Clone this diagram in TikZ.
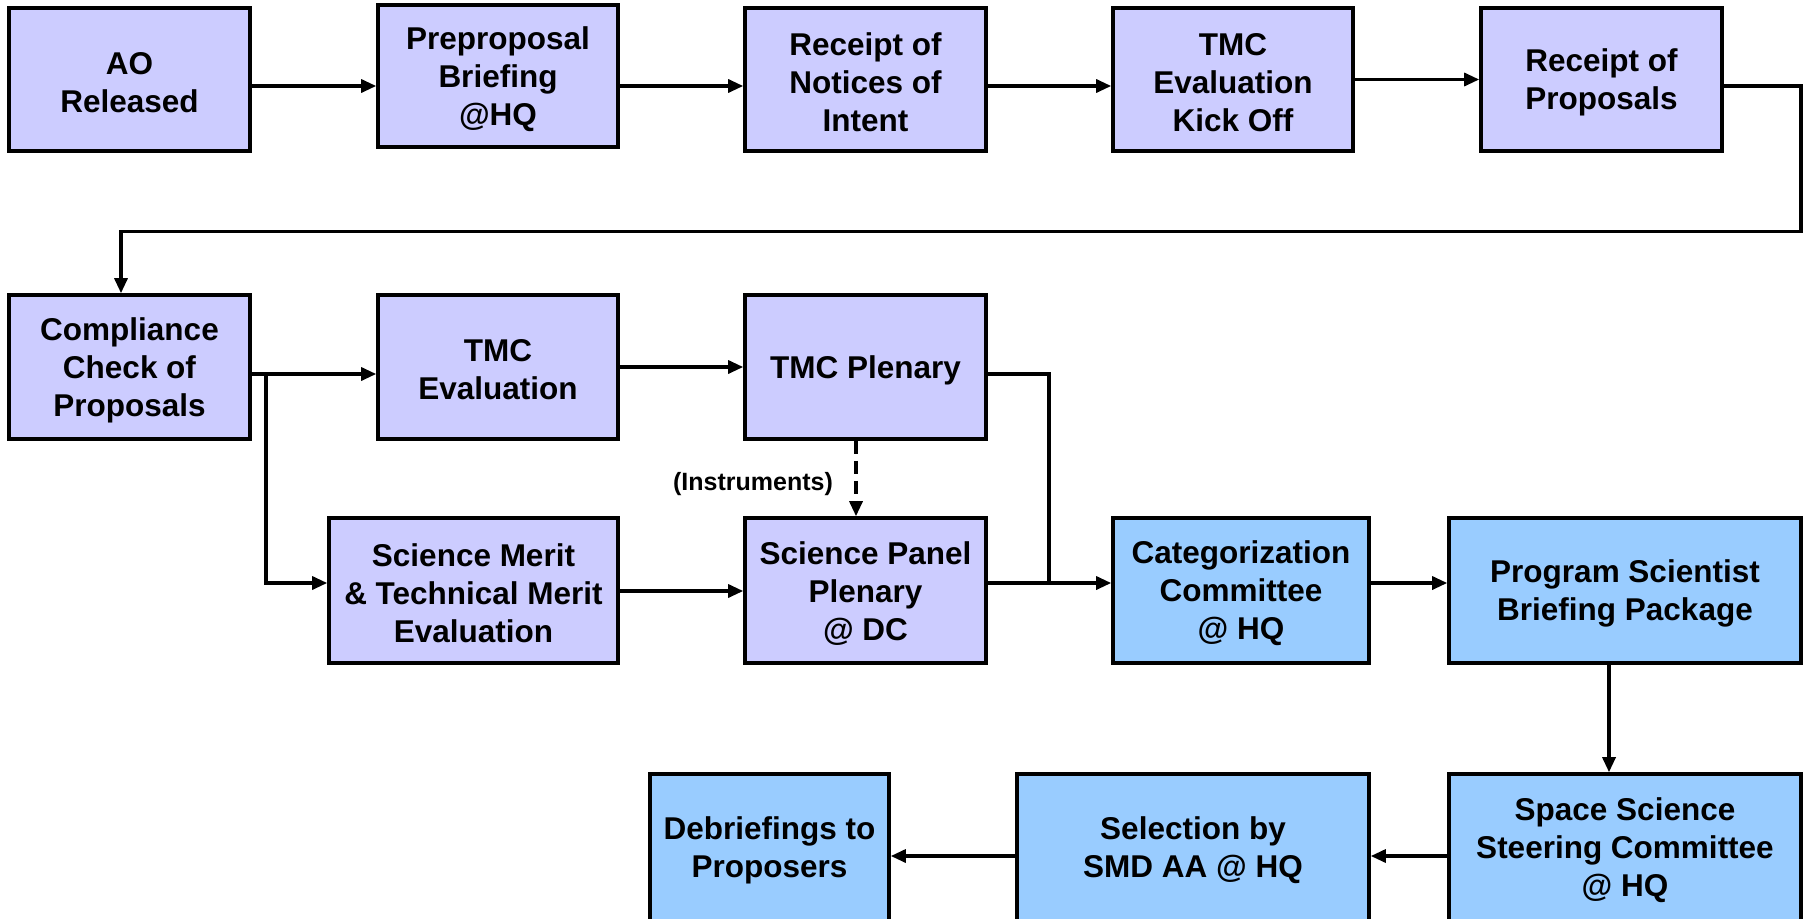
\documentclass[tikz,border=0pt]{standalone}
\usepackage{fontspec}
\setmainfont{Liberation Sans}
\usetikzlibrary{arrows.meta}
\definecolor{lav}{HTML}{CCCCFF}
\definecolor{sky}{HTML}{99CCFF}
\begin{document}
\begin{tikzpicture}[x=1pt,y=-1pt,
  tx/.style={align=center,inner sep=0pt,yshift=-3pt,
    font=\fontsize{31.5}{38}\selectfont\bfseries},
  box/.style={draw=black,line width=3.6pt,fill=lav,inner sep=0pt},
  bbox/.style={box,fill=sky},
  arr/.style={line width=3.2pt,-{Triangle[length=15pt,width=13pt]}},
  ln/.style={line width=3.2pt}]
\useasboundingbox (0,0) rectangle (1806,918);
\begin{scope}
\clip (0,0) rectangle (1806,918);
% row 1
\node[box,minimum width=241pt,minimum height=143pt,label={[tx]center:{AO\\Released}}] (ao) at (129.5,79.5) {};
\node[box,minimum width=240pt,minimum height=142pt,label={[tx]center:{Preproposal\\Briefing\\@HQ}}] (prep) at (498,76) {};
\node[box,minimum width=241pt,minimum height=143pt,label={[tx]center:{Receipt of\\Notices of\\Intent}}] (noi) at (865.5,79.5) {};
\node[box,minimum width=240pt,minimum height=143pt,label={[tx]center:{TMC\\Evaluation\\Kick Off}}] (kick) at (1233,79.5) {};
\node[box,minimum width=241pt,minimum height=143pt,label={[tx]center:{Receipt of\\Proposals}}] (rcpt) at (1601.5,79.5) {};
% row 2
\node[box,minimum width=241pt,minimum height=144pt,label={[tx]center:{Compliance\\Check of\\Proposals}}] (comp) at (129.5,367) {};
\node[box,minimum width=240pt,minimum height=144pt,label={[tx]center:{TMC\\Evaluation}}] (tmce) at (498,367) {};
\node[box,minimum width=241pt,minimum height=144pt,label={[tx]center:{TMC Plenary}}] (tmcp) at (865.5,367) {};
% row 3
\node[box,minimum width=289pt,minimum height=145pt,label={[tx]center:{Science Merit\\\& Technical Merit\\Evaluation}}] (sme) at (473.5,590.5) {};
\node[box,minimum width=241pt,minimum height=145pt,label={[tx]center:{Science Panel\\Plenary\\@ DC}}] (spp) at (865.5,590.5) {};
\node[bbox,minimum width=256pt,minimum height=145pt,label={[tx]center:{Categorization\\Committee\\@ HQ}}] (cat) at (1241,590.5) {};
\node[bbox,minimum width=352pt,minimum height=145pt,label={[tx]center:{Program Scientist\\Briefing Package}}] (psb) at (1625,590.5) {};
% row 4
\node[bbox,minimum width=352pt,minimum height=147pt,label={[tx]center:{Space Science\\Steering Committee\\@ HQ}}] (sssc) at (1625,847.5) {};
\node[bbox,minimum width=352pt,minimum height=147pt,label={[tx]center:{Selection by\\SMD AA @ HQ}}] (sel) at (1193,847.5) {};
\node[bbox,minimum width=239pt,minimum height=147pt,label={[tx]center:{Debriefings to\\Proposers}}] (deb) at (769.5,847.5) {};
% label
\node[font=\fontsize{25}{30}\selectfont\bfseries,inner sep=0pt] (lbl) at (753,484) {(Instruments)};
% row 1 arrows
\draw[arr] (ao.east |- 0,86) -- (prep.west |- 0,86);
\draw[arr] (prep.east |- 0,86) -- (noi.west |- 0,86);
\draw[arr] (noi.east |- 0,86) -- (kick.west |- 0,86);
\draw[arr] (kick.east |- 0,79.5) -- (rcpt.west |- 0,79.5);
% loop
\coordinate (l1) at (1801,86);
\coordinate (l2) at (1801,231.5);
\coordinate (l3) at (121,231.5);
\draw[arr,line join=miter] (rcpt.east |- l1) -- (l1) -- (l2) -- (l3) -- (comp.north -| l3);
% row 2
\coordinate (br) at (266,374);
\draw[arr] (comp.east |- br) -- (tmce.west |- br);
\draw[arr,line join=miter] (br) -- (br |- 0,583) -- (sme.west |- 0,583);
\draw[arr] (tmce.east |- 0,367) -- (tmcp.west |- 0,367);
\coordinate (j) at (1049,583);
\draw[ln,line join=miter] (tmcp.east |- 0,374) -- (j |- 0,374) -- (j);
\draw[arr,dash pattern=on 13pt off 7pt] (tmcp.south -| 856,0) -- (spp.north -| 856,0);
% row 3
\draw[arr] (sme.east |- 0,591) -- (spp.west |- 0,591);
\draw[arr] (spp.east |- j) -- (cat.west |- j);
\draw[arr] (cat.east |- j) -- (psb.west |- j);
\draw[arr] (psb.south -| 1609,0) -- (sssc.north -| 1609,0);
% row 4
\draw[arr] (sssc.west |- 0,856) -- (sel.east |- 0,856);
\draw[arr] (sel.west |- 0,856) -- (deb.east |- 0,856);
\end{scope}
\end{tikzpicture}
\end{document}
